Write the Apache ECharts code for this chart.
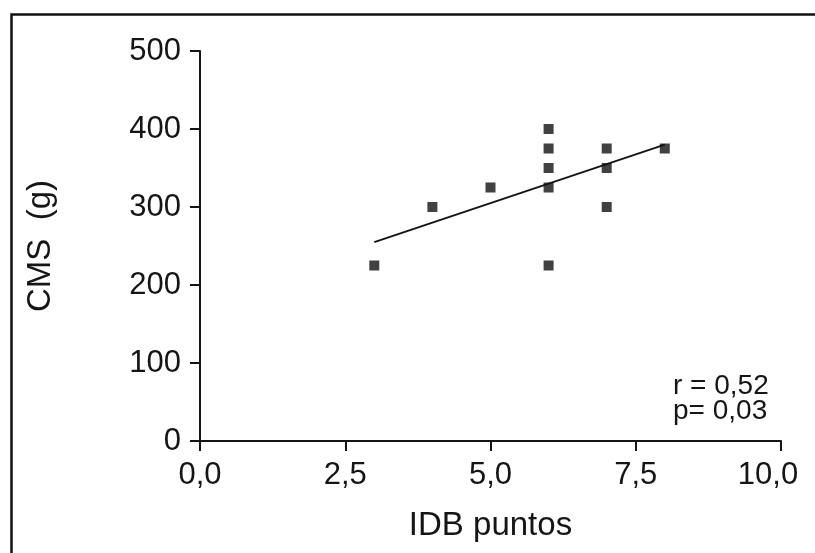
<!DOCTYPE html>
<html>
<head>
<meta charset="utf-8">
<script src="https://cdn.jsdelivr.net/npm/echarts@6/dist/echarts.min.js"></script>
<style>html,body{margin:0;padding:0;background:#fff}#c{width:815px;height:553px}</style>
</head>
<body>
<div id="c"></div>
<script>
var idb = [3, 4, 5, 6, 6, 6, 6, 6, 7, 7, 7, 8];
var cms = [225, 300, 325, 400, 375, 350, 325, 225, 375, 350, 300, 375];
var fitX = [3, 8];
var fitY = [255, 380];
var xTicks = [0, 2.5, 5, 7.5, 10];
var yTicks = [0, 100, 200, 300, 400, 500];
var statLines = ['r = 0,52', 'p= 0,03'];

var pts = idb.map(function (x, i) { return [x, cms[i]]; });
var fit = fitX.map(function (x, i) { return [x, fitY[i]]; });
var FONT = '"Liberation Sans", Arial, sans-serif';
var NARROW = '"Liberation Sans Narrow", "Arial Narrow", "Liberation Sans", Arial, sans-serif';
var INK = '#151515';

var chart = echarts.init(document.getElementById('c'), null, {renderer: 'canvas'});
chart.setOption({
  animation: false,
  backgroundColor: '#fff',
  grid: {left: 200, right: 34, top: 51, bottom: 112},
  xAxis: {
    type: 'value', min: xTicks[0], max: xTicks[xTicks.length - 1], interval: 2.5,
    name: 'IDB puntos', nameLocation: 'middle', nameGap: 68,
    nameTextStyle: {fontFamily: FONT, fontSize: 33, color: INK},
    axisLine: {show: true, onZero: false, lineStyle: {color: INK, width: 2}},
    axisTick: {show: true, inside: false, length: 10, lineStyle: {color: INK, width: 2}},
    axisLabel: {margin: 19, fontFamily: NARROW, fontSize: 31, color: INK,
      formatter: function (v) {
        var s = v.toFixed(1).replace('.', ',');
        return v === xTicks[xTicks.length - 1] ? '{last|' + s + '}' : s;
      },
      rich: {last: {fontFamily: NARROW, fontSize: 31, color: INK, padding: [0, 26, 0, 0]}}},
    splitLine: {show: false}
  },
  yAxis: {
    type: 'value', min: yTicks[0], max: yTicks[yTicks.length - 1], interval: 100,
    name: 'CMS  (g)', nameLocation: 'middle', nameGap: 143, nameRotate: 90,
    nameTextStyle: {fontFamily: FONT, fontSize: 33, color: INK},
    axisLine: {show: true, onZero: false, lineStyle: {color: INK, width: 2}},
    axisTick: {show: true, inside: false, length: 10, lineStyle: {color: INK, width: 2}},
    axisLabel: {margin: 19, fontFamily: NARROW, fontSize: 31, color: INK},
    splitLine: {show: false}
  },
  series: [
    {type: 'scatter', data: pts, symbol: 'rect', symbolSize: 10,
      itemStyle: {color: '#111'}, z: 3},
    {type: 'line', data: fit, symbol: 'none', lineStyle: {color: INK, width: 2}, z: 2}
  ],
  graphic: [
    {type: 'rect', left: 9, top: 12, shape: {x: 0, y: 0, width: 830, height: 600},
      style: {fill: 'none', stroke: '#111', lineWidth: 2.5}, silent: true},
    {type: 'text', x: 673, y: 386,
      style: {text: statLines[0], font: '28px ' + FONT, fill: INK, align: 'left', verticalAlign: 'middle'}},
    {type: 'text', x: 673, y: 411,
      style: {text: statLines[1], font: '28px ' + FONT, fill: INK, align: 'left', verticalAlign: 'middle'}}
  ]
});
</script>
</body>
</html>
